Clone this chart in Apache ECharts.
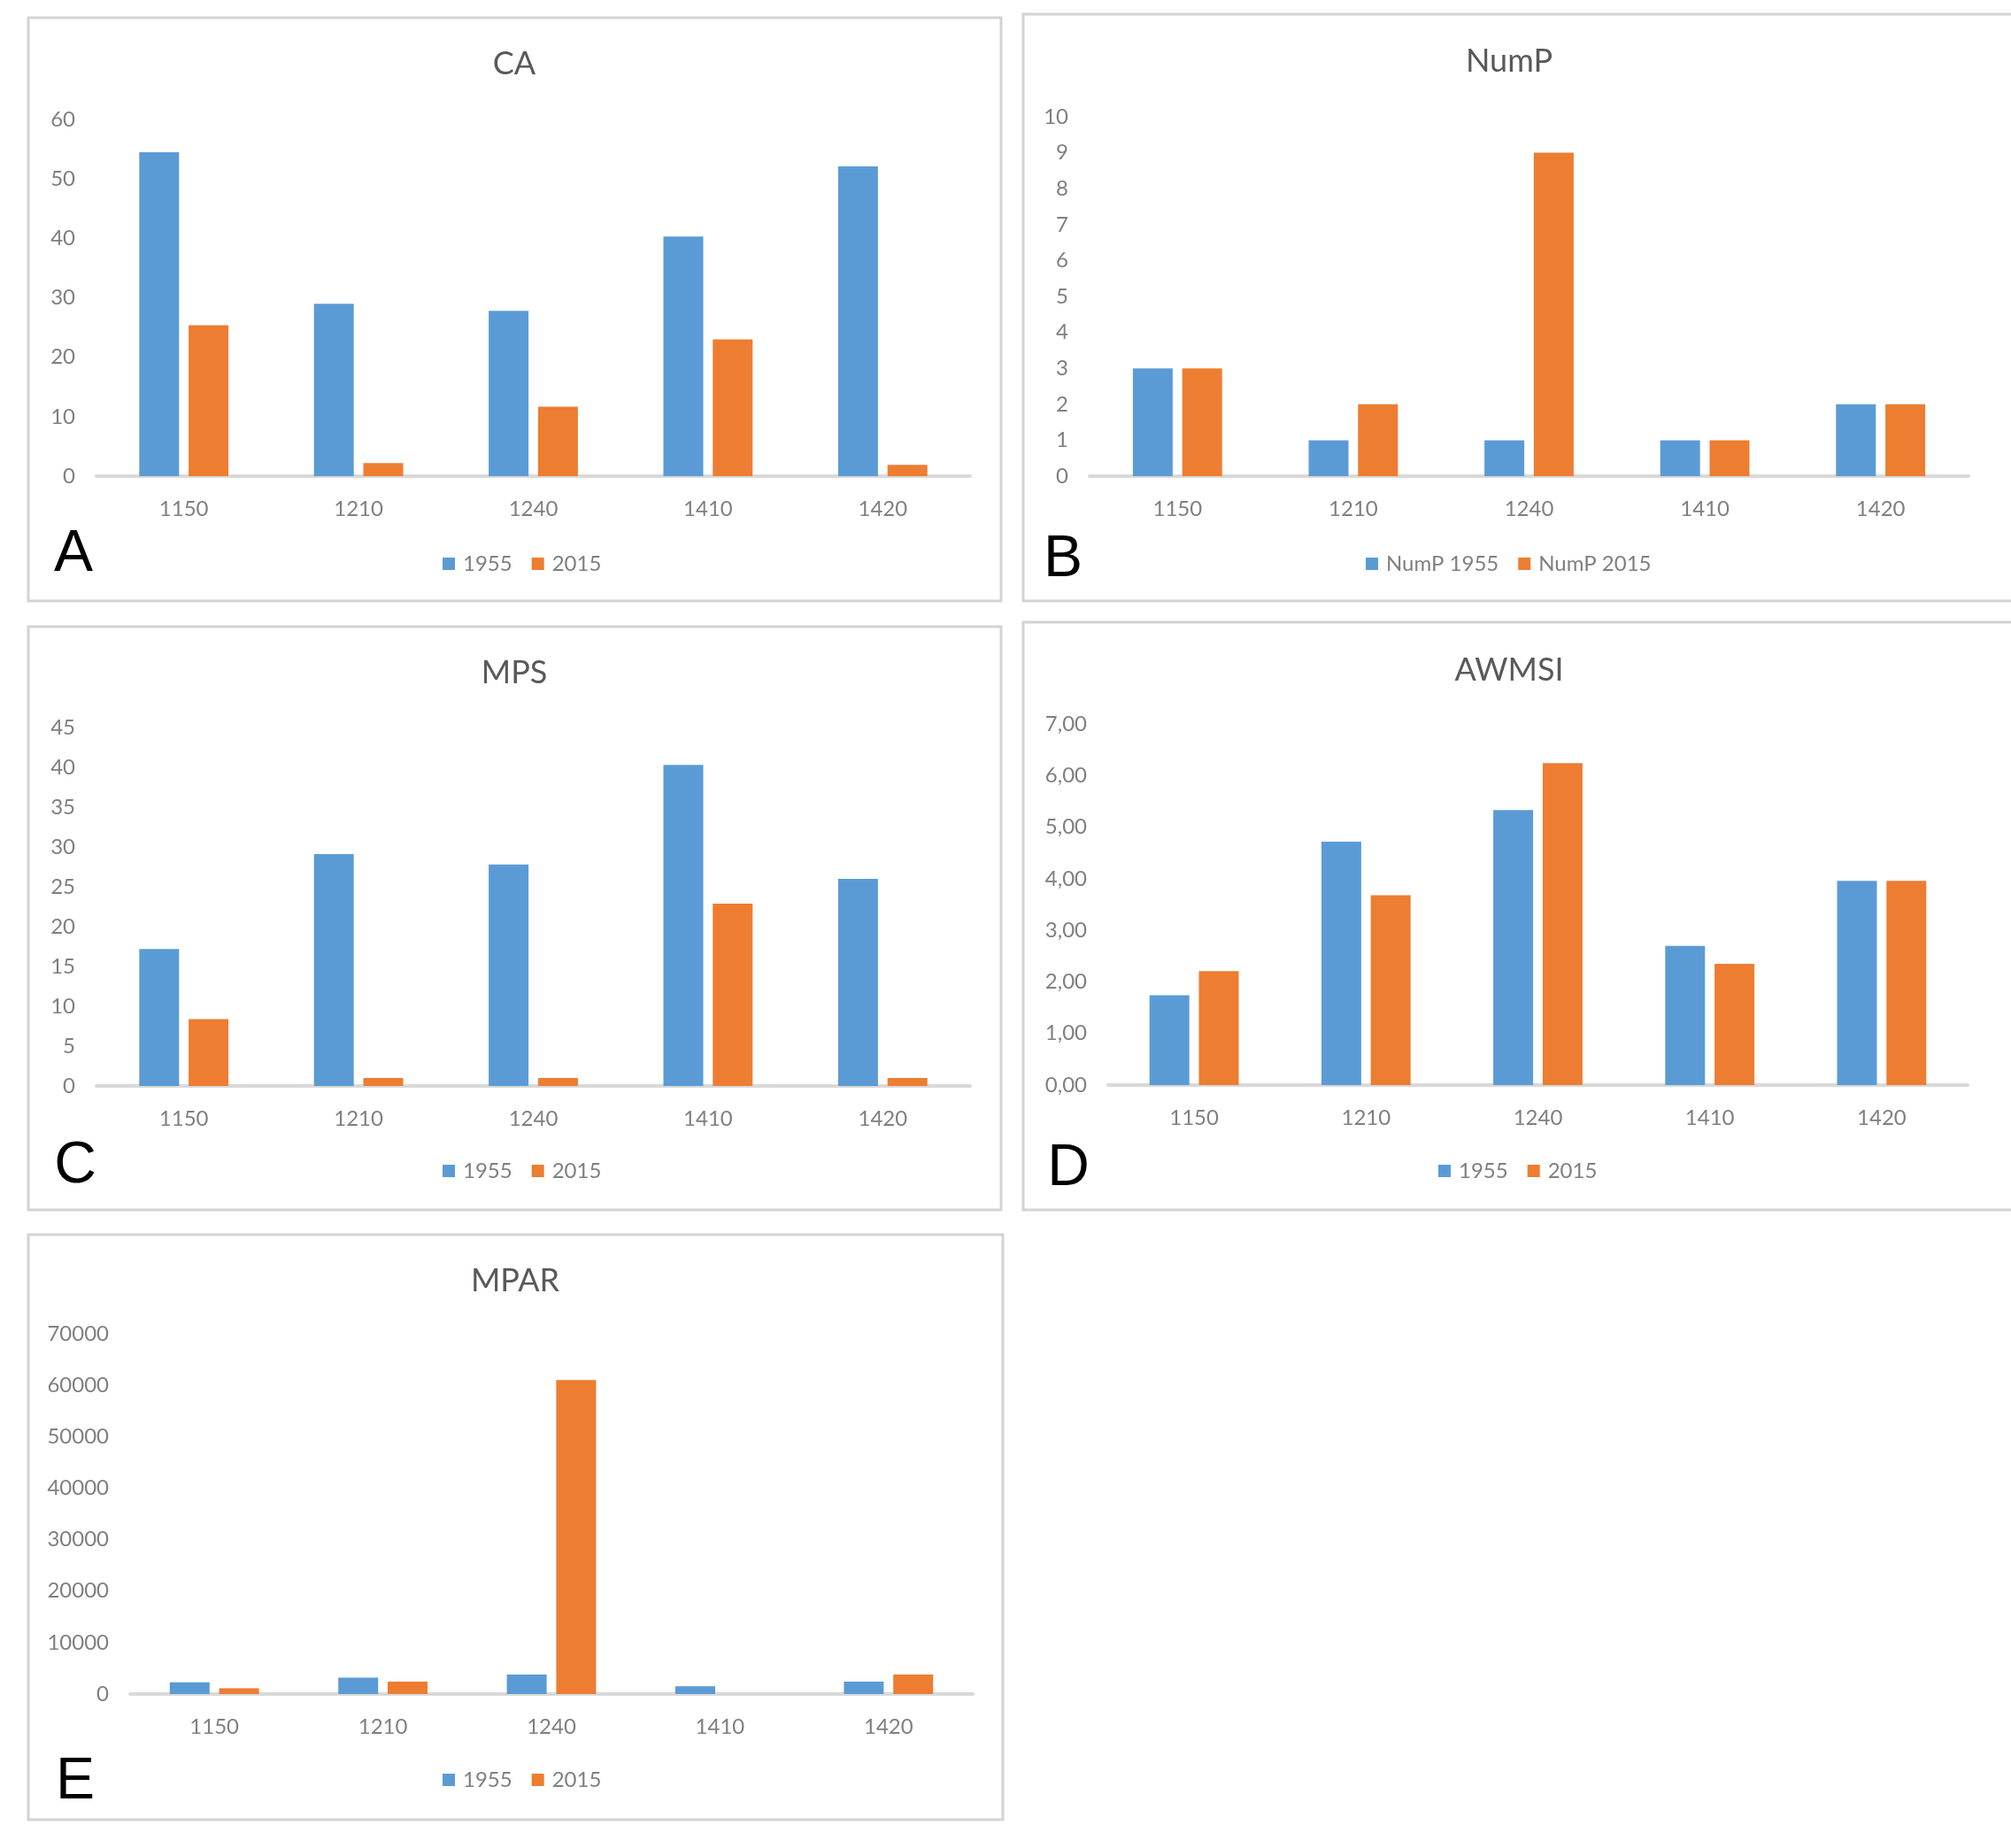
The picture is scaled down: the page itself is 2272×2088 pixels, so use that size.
<!DOCTYPE html>
<html>
<head>
<meta charset="utf-8">
<script src="https://cdn.jsdelivr.net/npm/echarts@6/dist/echarts.min.js"></script>
<style>
  html, body { margin: 0; padding: 0; background: #ffffff; }
  #chart { width: 2272px; height: 2088px; }
</style>
</head>
<body>
<div id="chart"></div>
<script>
// ---- data ----
const categories = ['1150', '1210', '1240', '1410', '1420'];

const ca1955 = [54.5, 29.0, 27.8, 40.3, 52.1];
const ca2015 = [25.4, 2.2, 11.7, 23.0, 1.9];

const nump1955 = [3, 1, 1, 1, 2];
const nump2015 = [3, 2, 9, 1, 2];

const mps1955 = [17.2, 29.1, 27.8, 40.3, 26.0];
const mps2015 = [8.4, 1.0, 1.0, 22.9, 1.0];

const awmsi1955 = [1.74, 4.72, 5.33, 2.70, 3.96];
const awmsi2015 = [2.21, 3.68, 6.24, 2.35, 3.96];

const mpar1955 = [2300, 3200, 3800, 1500, 2400];
const mpar2015 = [1100, 2400, 61000, 0, 3800];

const panelTitles = ['CA', 'NumP', 'MPS', 'AWMSI', 'MPAR'];
const panelLetters = ['A', 'B', 'C', 'D', 'E'];
const seriesNames = [
  ['1955', '2015'],
  ['NumP 1955', 'NumP 2015'],
  ['1955', '2015'],
  ['1955', '2015'],
  ['1955', '2015']
];
const axisMax = [60, 10, 45, 7, 70000];
const axisInterval = [10, 1, 5, 1, 10000];

// ---- layout (pixels) ----
const BLUE = '#5B9BD5';
const ORANGE = '#ED7D31';
const FONT = 'Lato, "Open Sans", sans-serif';

const panels = [
  { grid: { left: 109, top: 135, width: 987, height: 403 }, box: [32, 20, 1099, 659], title: [581, 72], letter: [83, 627], legendLeft: 495, legendTop: 620 },
  { grid: { left: 1231, top: 132, width: 993, height: 406 }, box: [1156, 16, 1140, 663], title: [1705, 69], letter: [1201, 633], legendLeft: 1538, legendTop: 620 },
  { grid: { left: 109, top: 822, width: 987, height: 405 }, box: [32, 708, 1099, 659], title: [581, 760], letter: [85, 1318], legendLeft: 495, legendTop: 1306 },
  { grid: { left: 1252, top: 818, width: 971, height: 408 }, box: [1156, 703, 1140, 664], title: [1705, 757], letter: [1207, 1321], legendLeft: 1620, legendTop: 1306 },
  { grid: { left: 147, top: 1507, width: 952, height: 407 }, box: [32, 1395, 1101, 661], title: [582, 1447], letter: [85, 2014], legendLeft: 495, legendTop: 1994 }
];

const dataSets = [
  [ca1955, ca2015],
  [nump1955, nump2015],
  [mps1955, mps2015],
  [awmsi1955, awmsi2015],
  [mpar1955, mpar2015]
];

const grids = [], xAxes = [], yAxes = [], series = [], legends = [], graphics = [];

panels.forEach((p, i) => {
  grids.push(Object.assign({ containLabel: false }, p.grid));
  xAxes.push({
    type: 'category',
    gridIndex: i,
    data: categories,
    axisLine: { show: true, lineStyle: { color: '#D9D9D9', width: 4 } },
    axisTick: { show: false },
    axisLabel: { color: '#7f7f7f', fontSize: 24, fontFamily: FONT, margin: 25 },
    splitLine: { show: false }
  });
  yAxes.push({
    type: 'value',
    gridIndex: i,
    min: 0,
    max: axisMax[i],
    interval: axisInterval[i],
    axisLine: { show: false },
    axisTick: { show: false },
    splitLine: { show: false },
    axisLabel: {
      color: '#7f7f7f', fontSize: 24, fontFamily: FONT, margin: 24,
      formatter: i === 3 ? (v => v.toFixed(2).replace('.', ',')) : (v => String(v))
    }
  });
  const [d1, d2] = dataSets[i];
  series.push({
    type: 'bar', name: seriesNames[i][0], xAxisIndex: i, yAxisIndex: i,
    data: d1, barWidth: 45, barGap: '24%',
    itemStyle: { color: BLUE }, silent: true
  });
  series.push({
    type: 'bar', name: seriesNames[i][1], xAxisIndex: i, yAxisIndex: i,
    data: d2, barWidth: 45, barGap: '24%',
    itemStyle: { color: ORANGE }, silent: true
  });
  legends.push({
    data: seriesNames[i],
    left: p.legendLeft,
    top: p.legendTop,
    orient: 'horizontal',
    itemWidth: 14,
    itemHeight: 14,
    itemGap: 22,
    icon: 'rect',
    selectedMode: false,
    textStyle: { color: '#7f7f7f', fontSize: 24, fontFamily: FONT, padding: [0, 0, 0, 4] }
  });
  graphics.push({
    type: 'rect',
    shape: { x: p.box[0], y: p.box[1], width: p.box[2], height: p.box[3] },
    style: { fill: 'none', stroke: '#D3D3D3', lineWidth: 3 },
    z: -1, silent: true
  });
  graphics.push({
    type: 'text',
    style: {
      text: panelTitles[i], x: p.title[0], y: p.title[1],
      textAlign: 'center', textVerticalAlign: 'middle',
      font: '36px ' + FONT, fill: '#595959'
    },
    silent: true
  });
  graphics.push({
    type: 'text',
    style: {
      text: panelLetters[i], x: p.letter[0], y: p.letter[1],
      textAlign: 'center', textVerticalAlign: 'middle',
      font: '66px "Liberation Sans", Arial, sans-serif', fill: '#000000'
    },
    silent: true
  });
});

const chart = echarts.init(document.getElementById('chart'), null, { renderer: 'canvas' });
chart.setOption({
  animation: false,
  backgroundColor: '#ffffff',
  grid: grids,
  xAxis: xAxes,
  yAxis: yAxes,
  legend: legends,
  series: series,
  graphic: graphics
});
</script>
</body>
</html>
